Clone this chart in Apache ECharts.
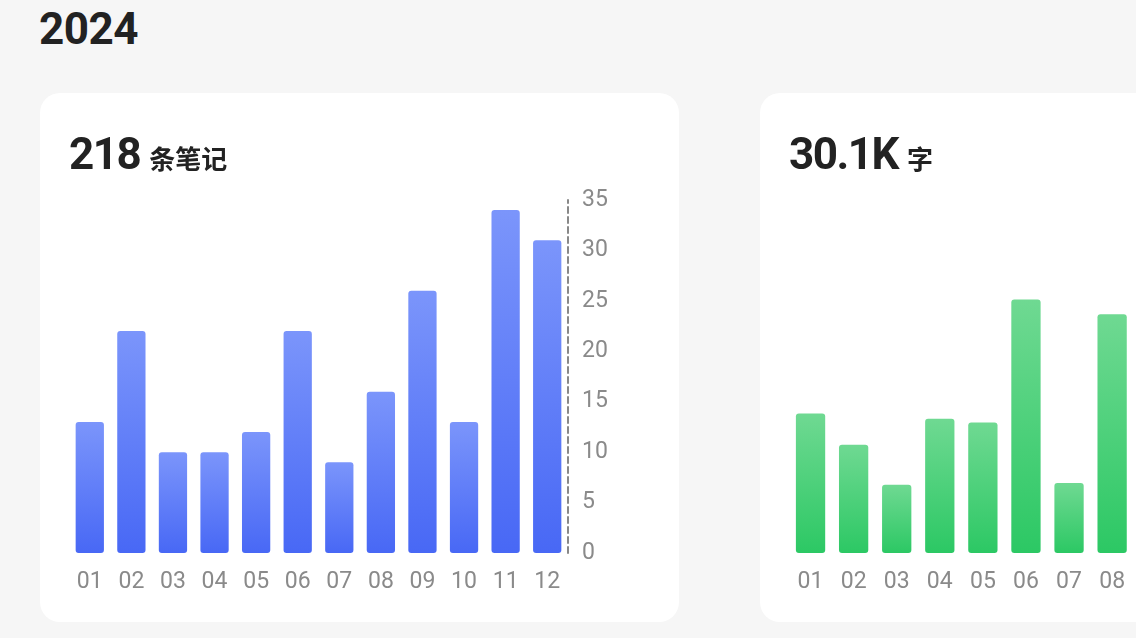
<!DOCTYPE html>
<html><head><meta charset="utf-8">
<script src="https://cdn.jsdelivr.net/npm/echarts@6/dist/echarts.min.js"></script>
<style>
html,body{margin:0;padding:0;width:1136px;height:638px;overflow:hidden;background:#f6f6f6;}
body{position:relative;font-family:"Roboto","Noto Sans CJK SC",sans-serif;color:#222;}
.year{position:absolute;left:39px;top:5px;font-size:44px;font-weight:700;line-height:48px;font-family:"Roboto","Noto Sans CJK SC",sans-serif;letter-spacing:-0.5px;}
.card{position:absolute;top:93px;width:639px;height:529px;background:#fff;border-radius:20px;overflow:hidden;}
.head{position:absolute;left:29px;top:36px;display:flex;align-items:baseline;z-index:2;}
.num{font-family:"Roboto","Noto Sans CJK SC",sans-serif;font-weight:700;font-size:44px;line-height:50px;letter-spacing:-1.5px;}
.unit{font-family:"Noto Sans CJK SC",sans-serif;font-weight:700;font-size:26px;margin-left:9px;}
.chart{position:absolute;left:0;top:0;width:639px;height:529px;}
</style></head>
<body>
<div class="year">2024</div>
<div class="card" style="left:40px;">
  <div class="head"><span class="num">218</span><span class="unit">条笔记</span></div>
  <div class="chart" id="c1"></div>
</div>
<div class="card" style="left:760px;">
  <div class="head"><span class="num">30.1K</span><span class="unit">字</span></div>
  <div class="chart" id="c2"></div>
</div>
<script>
const months = ['01','02','03','04','05','06','07','08','09','10','11','12'];
const notes = [13,22,10,10,12,22,9,16,26,13,34,31];
const words = [2370,1840,1160,2280,2220,4310,1190,4060,2700,1500,3300,3170];

const labelFont = '"Roboto",sans-serif';

function makeOption(data, top, bottom, gridRight, yMax, yInterval, yFmt){
  return {
    animation:false,
    grid:{left:29, right:gridRight, top:107, bottom:69},
    xAxis:{type:'category', data:months,
      axisLine:{show:false}, axisTick:{show:false},
      axisLabel:{color:'#8a8a8a', fontSize:23, margin:18, fontFamily:labelFont}},
    yAxis:{type:'value', position:'right', min:0, max:yMax, interval:yInterval,
      splitLine:{show:false}, axisTick:{show:false},
      axisLine:{show:true, lineStyle:{color:'#888888', width:2, type:[6,4]}},
      axisLabel:{color:'#8a8a8a', fontSize:23, margin:14, fontFamily:labelFont, formatter:yFmt}},
    series:[{type:'bar', data:data, barWidth:'68%',
      itemStyle:{borderRadius:3,
        color:new echarts.graphic.LinearGradient(0,0,0,1,[{offset:0,color:top},{offset:1,color:bottom}])}}]
  };
}
const c1 = echarts.init(document.getElementById('c1'), null, {renderer:'canvas'});
c1.setOption(makeOption(notes,'#7b95fb','#4868f5',111,35,5,null));
const c2 = echarts.init(document.getElementById('c2'), null, {renderer:'canvas'});
c2.setOption(makeOption(words,'#6fd992','#2cc864',93,6000,1000,function(v){return v===0?'0':(v/1000)+'K';}));
</script>
</body></html>
